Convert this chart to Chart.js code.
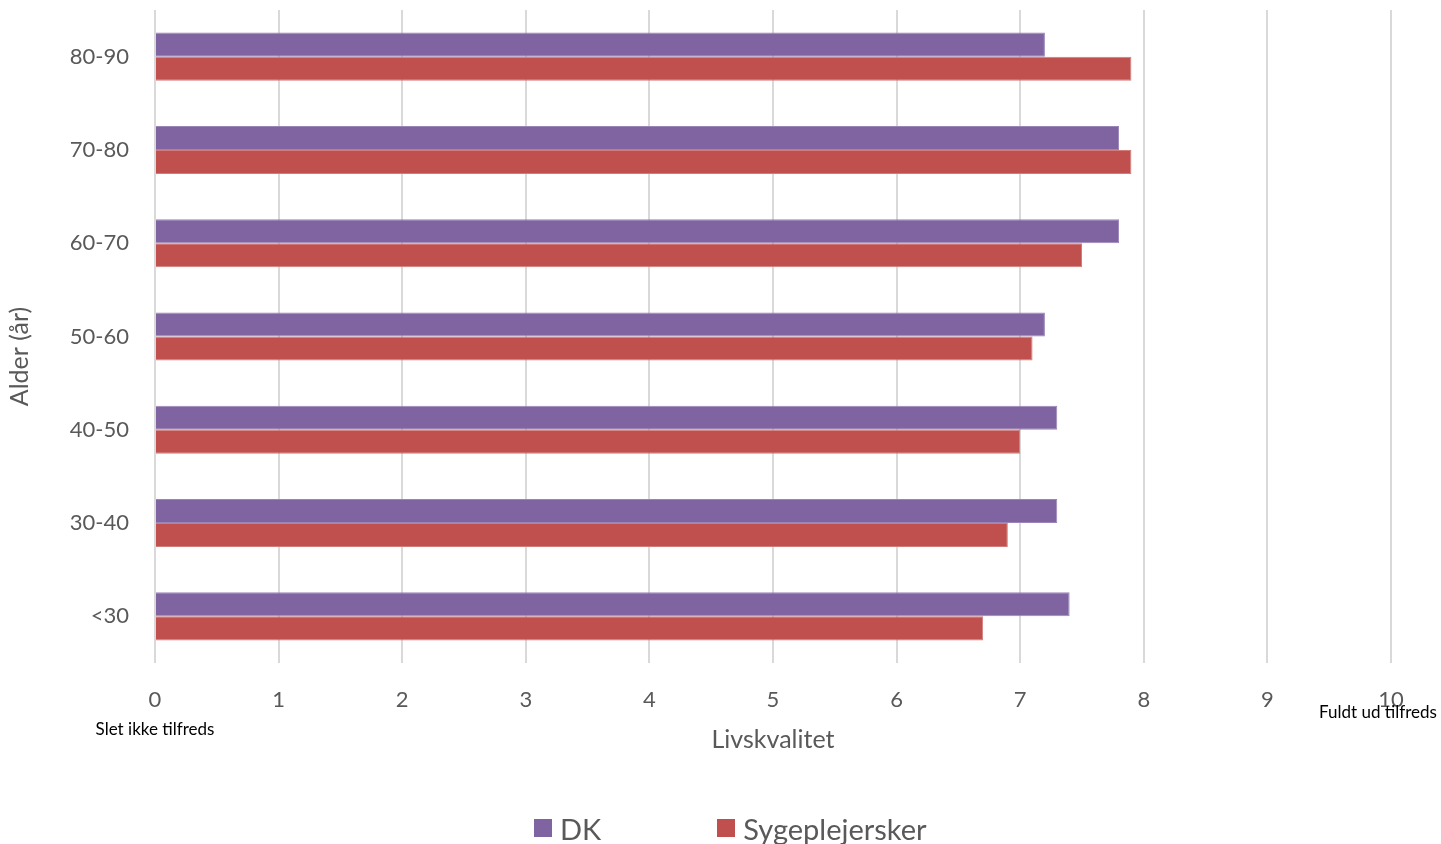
<!DOCTYPE html>
<html>
<head>
<meta charset="utf-8">
<script src="https://cdn.jsdelivr.net/npm/chart.js@4/dist/chart.umd.min.js"></script>
<style>
  html, body { margin: 0; padding: 0; background: #fff; }
  #wrap { position: relative; width: 1441px; height: 844px; }
  #legend { position: absolute; left: 534px; top: 812px; height: 32px; display: flex; align-items: center;
    font-family: Lato, sans-serif; font-size: 29px; color: #595959; }
  #legend .item { display: flex; align-items: center; margin-right: 116px; }
  #legend .box { width: 18px; height: 18px; margin-right: 8px; }
</style>
</head>
<body>
<div id="wrap">
  <canvas id="chart" width="1441" height="844"></canvas>
  <div id="legend"></div>
</div>
<script>
const ageGroups = ['80-90', '70-80', '60-70', '50-60', '40-50', '30-40', '<30'];
const dkValues = [7.2, 7.8, 7.8, 7.2, 7.3, 7.3, 7.4];
const nurseValues = [7.9, 7.9, 7.5, 7.1, 7.0, 6.9, 6.7];
const xTicks = [0, 1, 2, 3, 4, 5, 6, 7, 8, 9, 10];
const lowLabel = 'Slet ikke tilfreds';
const highLabel = 'Fuldt ud tilfreds';
const yTitle = 'Alder (år)';

const grey = '#595959';
const font = 'Lato, sans-serif';

// end notes under the x axis + the y title (sits a bit below the middle in the original)
const extras = {
  id: 'extras',
  afterDraw(chart) {
    const x = chart.scales.x;
    const y = chart.scales.y;
    const ctx = chart.ctx;
    ctx.save();
    ctx.font = '17px ' + font;
    ctx.fillStyle = '#000';
    ctx.textAlign = 'center';
    ctx.textBaseline = 'middle';
    ctx.fillText(lowLabel, x.getPixelForValue(xTicks[0]), 730);
    ctx.fillText(highLabel, x.getPixelForValue(xTicks[xTicks.length - 1]) - 13, 713);

    ctx.font = '25px ' + font;
    ctx.fillStyle = grey;
    ctx.translate(20, (y.top + y.bottom) / 2 + 20);
    ctx.rotate(-Math.PI / 2);
    ctx.fillText(yTitle, 0, 0);
    ctx.restore();
  }
};

const chart = new Chart(document.getElementById('chart'), {
  type: 'bar',
  data: {
    labels: ageGroups,
    datasets: [
      { label: 'DK', data: dkValues, backgroundColor: '#8064A2', borderColor: '#9a85b8', borderWidth: 1 },
      { label: 'Sygeplejersker', data: nurseValues, backgroundColor: '#C0504D', borderColor: '#d27d7b', borderWidth: 1 }
    ]
  },
  options: {
    indexAxis: 'y',
    responsive: false,
    animation: false,
    layout: { padding: { top: 10, right: 50, left: 0, bottom: 0 } },
    datasets: { bar: { categoryPercentage: 0.515, barPercentage: 1 } },
    plugins: { legend: { display: false }, tooltip: { enabled: false } },
    scales: {
      x: {
        min: 0,
        max: 10,
        afterBuildTicks: (s) => { s.ticks = xTicks.map(v => ({ value: v })); },
        grid: { color: '#d9d9d9', lineWidth: 2, drawTicks: false },
        border: { display: false },
        ticks: { color: grey, font: { family: font, size: 22 }, padding: 24 },
        title: { display: true, text: 'Livskvalitet', color: grey, font: { family: font, size: 25 }, padding: { top: 0, bottom: 89 } },
        afterFit: (s) => { s.height = 181; }
      },
      y: {
        grid: { display: false },
        border: { display: false },
        ticks: { color: grey, font: { family: font, size: 22 }, padding: 18 },
        afterFit: (s) => { s.width = 155; s.paddingTop = 0; s.paddingBottom = 0; }
      }
    }
  },
  plugins: [extras]
});

const legend = document.getElementById('legend');
chart.data.datasets.forEach(ds => {
  const item = document.createElement('div');
  item.className = 'item';
  const box = document.createElement('span');
  box.className = 'box';
  box.style.background = ds.backgroundColor;
  const txt = document.createElement('span');
  txt.textContent = ds.label;
  item.appendChild(box);
  item.appendChild(txt);
  legend.appendChild(item);
});
</script>
</body>
</html>
